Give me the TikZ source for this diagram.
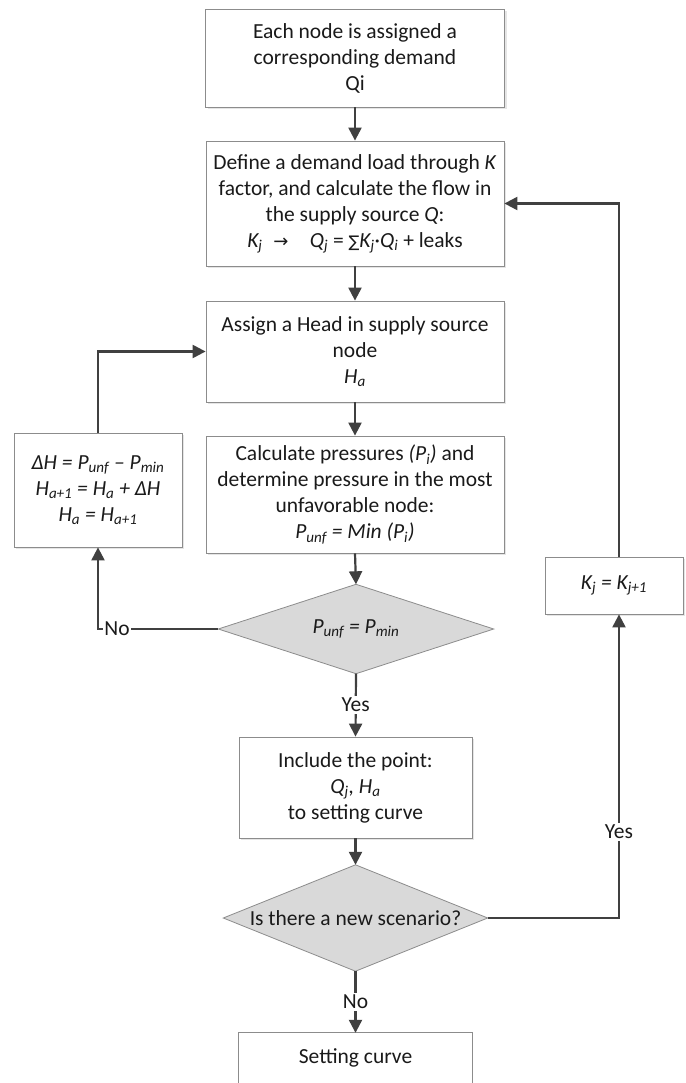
\documentclass[tikz,border=0pt]{standalone}
\usepackage{fontspec}
\setmainfont{Carlito}
\newfontfamily\symfont{DejaVu Sans}
\usetikzlibrary{arrows.meta,backgrounds,shadows}
\definecolor{boxline}{HTML}{8C8C8C}
\definecolor{arrowc}{HTML}{404040}
\definecolor{dfill}{HTML}{D9D9D9}
\definecolor{txt}{HTML}{1A1A1A}
\newcommand{\sbs}[1]{\textsubscript{#1}}
\begin{document}
\begin{tikzpicture}[x=1pt,y=-1pt,
  every node/.style={font=\fontsize{21.5}{26}\selectfont, text=txt},
  procbox/.style={draw=boxline, line width=0.8pt, fill=white, align=center, inner sep=0pt,
    drop shadow={shadow xshift=2pt, shadow yshift=-2pt, fill=black, opacity=0.10}},
  dtext/.style={inner sep=0pt, align=center},
  flow/.style={draw=arrowc, line width=2.2pt, -{Triangle[length=13pt,width=13pt]}},
  lbl/.style={fill=white, inner sep=2pt}
]
\useasboundingbox (0,0) rectangle (685,1083);

% process boxes
\node[procbox, minimum width=299pt, minimum height=98pt] (b1) at (355,58)
  {Each node is assigned a\\corresponding demand\\Qi};
\node[procbox, minimum width=298pt, minimum height=125pt] (b2) at (355,203.5)
  {Define a demand load through \textit{K}\\factor, and calculate the flow in\\the supply source \textit{Q}:\\
   \textit{K\sbs{j}}\enspace{\symfont\fontsize{18}{26}\selectfont →}\quad\textit{Q\sbs{j}} = {\symfont\fontsize{16}{26}\selectfont ∑}\textit{K\sbs{j}}·\textit{Q\sbs{i}} + leaks};
\node[procbox, minimum width=298pt, minimum height=101pt] (b3) at (355,351.5)
  {Assign a Head in supply source\\node\\\textit{H\sbs{a}}};
\node[procbox, minimum width=298pt, minimum height=117pt] (b4) at (355,494.5)
  {Calculate pressures \textit{(P\sbs{i})} and\\determine pressure in the most\\unfavorable node:\\\textit{P\sbs{unf} = Min (P\sbs{i})}};
\node[procbox, minimum width=168pt, minimum height=114pt] (lb) at (98,490)
  {\textit{ΔH = P\sbs{unf} – P\sbs{min}}\\\textit{H\sbs{a+1} = H\sbs{a} + ΔH}\\\textit{H\sbs{a} = H\sbs{a+1}}};
\node[procbox, minimum width=233pt, minimum height=101pt] (b5) at (355.5,787.5)
  {Include the point:\\\textit{Q\sbs{j}, H\sbs{a}}\\to setting curve};
\node[procbox, minimum width=138pt, minimum height=57pt] (kb) at (614,585.5)
  {\textit{K\sbs{j} = K\sbs{j+1}}};

% decisions (text nodes; diamond outline drawn on background layer)
\node[dtext, minimum width=275pt, minimum height=89pt] (d1) at (356,629)
  {\textit{P\sbs{unf} = P\sbs{min}}};
\node[dtext, minimum width=264pt, minimum height=106pt] (d2) at (355.5,918)
  {Is there a new scenario?};

% final box (bottom edge cut off by the picture border)
\node[dtext, minimum width=233pt, minimum height=50pt] (end) at (355.5,1058) {Setting curve};
\draw[draw=boxline, line width=0.8pt] (end.south west) -- (end.north west) -- (end.north east) -- (end.south east);

\begin{pgfonlayer}{background}
  \fill[white] (0,0) rectangle (685,1083);
  \draw[draw=boxline, fill=dfill, line width=0.8pt] (d1.north) -- (d1.east) -- (d1.south) -- (d1.west) -- cycle;
  \draw[draw=boxline, fill=dfill, line width=0.8pt] (d2.north) -- (d2.east) -- (d2.south) -- (d2.west) -- cycle;
\end{pgfonlayer}

% connectors
\coordinate (nocorner) at (98,629);
\coordinate (yescorner) at (619,918);
\draw[flow] (b1.south) -- (b2.north);
\draw[flow] (b2.south) -- (b3.north);
\draw[flow] (b3.south) -- (b4.north);
\draw[flow] (b4.south) -- (d1.north);
\draw[flow] (d1.west) -- (nocorner) -- (lb.south);
\node[lbl, inner sep=1pt] (nolbl) at (117,629) {No};
\draw[flow] (lb.north) -- (lb.north |- b3.west) -- (b3.west);
\draw[flow] (d1.south) -- node[lbl] (yeslbl) {Yes} (b5.north);
\draw[flow] (b5.south) -- (d2.north);
\draw[flow] (d2.east) -- (yescorner) -- (yescorner |- kb.south);
\node[lbl] (yes2lbl) at (619,832) {Yes};
\draw[flow] (kb.north -| yescorner) -- (yescorner |- b2.east) -- (b2.east);
\draw[flow] (d2.south) -- node[lbl] (no2lbl) {No} (end.north);
\end{tikzpicture}
\end{document}
